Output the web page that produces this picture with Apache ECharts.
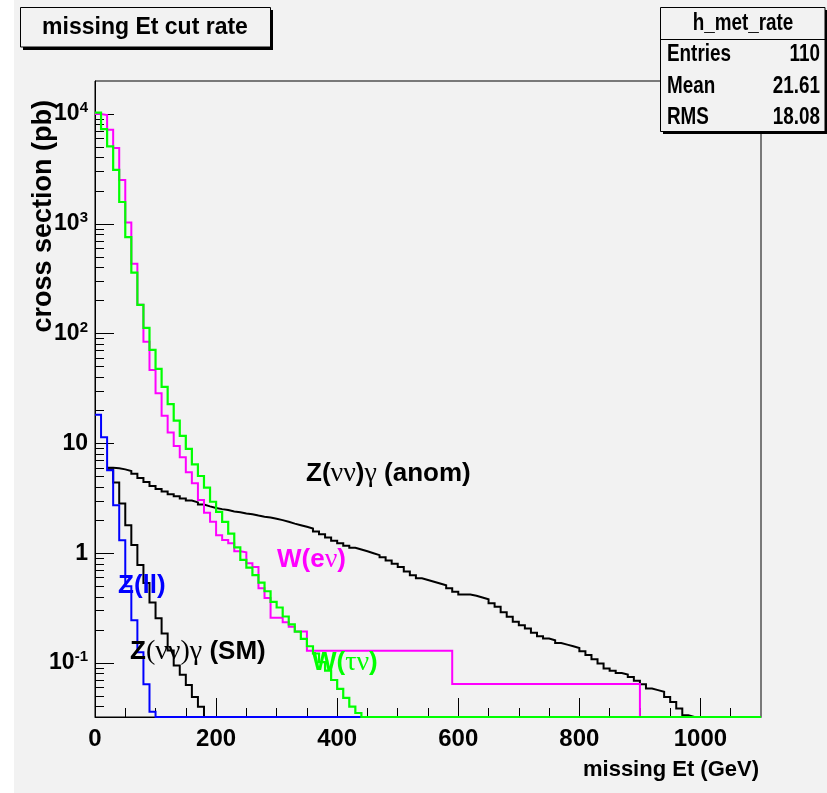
<!DOCTYPE html>
<html><head><meta charset="utf-8">
<script src="https://cdn.jsdelivr.net/npm/echarts@6/dist/echarts.min.js"></script>
<style>html,body{margin:0;padding:0;background:#fff}#c{width:827px;height:793px}</style>
</head><body><div id="c"></div>
<script>
// ---------- data ----------
const BIN_WIDTH = 10; // GeV, 110 bins from 0 to 1100
const X_MIN = 0, X_MAX = 1100;
const Y_MIN = 0.0322, Y_MAX = 20000;

const X_TICKS = [0, 200, 400, 600, 800, 1000];
const X_TICK_LABELS = ['0', '200', '400', '600', '800', '1000'];
const X_MINOR_TICKS = [50,100,150,250,300,350,450,500,550,650,700,750,850,900,950,1050];
const Y_TICKS = [0.1, 1, 10, 100, 1000, 10000];
const Y_TICK_LABELS = ['10{s|-1}', '1', '10', '10{s|2}', '10{s|3}', '10{s|4}'];
const Y_MINOR_TICKS = [0.04,0.05,0.06,0.07,0.08,0.09,
  0.2,0.3,0.4,0.5,0.6,0.7,0.8,0.9,
  2,3,4,5,6,7,8,9,
  20,30,40,50,60,70,80,90,
  200,300,400,500,600,700,800,900,
  2000,3000,4000,5000,6000,7000,8000,9000];

// W(e nu) - magenta
const W_ENU = [
  10000, 9800, 7190, 4900, 2510, 1030, 432, 183, 84.5, 46.7,
  28.6, 17.9, 12.6, 9.46, 7.46, 5.45, 4.33, 3.05, 2.33, 1.93,
  1.46, 1.32, 1.23, 1.04, 1.02, 0.81, 0.75, 0.48, 0.39, 0.258,
  0.258, 0.235, 0.214, 0.1935, 0.1935, 0.129, 0.129, 0.129, 0.129, 0.129,
  0.129, 0.129, 0.129, 0.129, 0.129, 0.129, 0.129, 0.129, 0.129, 0.129,
  0.129, 0.129, 0.129, 0.129, 0.129, 0.129, 0.129, 0.129, 0.129, 0.0645,
  0.0645, 0.0645, 0.0645, 0.0645, 0.0645, 0.0645, 0.0645, 0.0645, 0.0645, 0.0645,
  0.0645, 0.0645, 0.0645, 0.0645, 0.0645, 0.0645, 0.0645, 0.0645, 0.0645, 0.0645,
  0.0645, 0.0645, 0.0645, 0.0645, 0.0645, 0.0645, 0.0645, 0.0645, 0.0645, 0.0645,
  0, 0, 0, 0, 0, 0, 0, 0, 0, 0,
  0, 0, 0, 0, 0, 0, 0, 0, 0, 0
];
// W(tau nu) - green
const W_TAUNU = [
  10300, 7300, 5070, 3100, 1580, 757, 360, 183, 113, 71,
  47.8, 32.7, 22.8, 16.1, 11.7, 8.9, 6.45, 5.05, 3.95, 2.94,
  2.38, 1.93, 1.51, 1.13, 0.87, 0.74, 0.63, 0.54, 0.45, 0.36,
  0.32, 0.265, 0.225, 0.193, 0.166, 0.142, 0.122, 0.102, 0.085, 0.07,
  0.058, 0.048, 0.04, 0.035, 0, 0, 0, 0, 0, 0,
  0, 0, 0, 0, 0, 0, 0, 0, 0, 0,
  0, 0, 0, 0, 0, 0, 0, 0, 0, 0,
  0, 0, 0, 0, 0, 0, 0, 0, 0, 0,
  0, 0, 0, 0, 0, 0, 0, 0, 0, 0,
  0, 0, 0, 0, 0, 0, 0, 0, 0, 0,
  0, 0, 0, 0, 0, 0, 0, 0, 0, 0
];
// Z(ll) - blue
const Z_LL = [
  18.2, 11.4, 5.7, 2.74, 1.31, 0.5, 0.245, 0.125, 0.064, 0.036,
  0, 0, 0, 0, 0, 0, 0, 0, 0, 0,
  0, 0, 0, 0, 0, 0, 0, 0, 0, 0,
  0, 0, 0, 0, 0, 0, 0, 0, 0, 0,
  0, 0, 0, 0, 0, 0, 0, 0, 0, 0,
  0, 0, 0, 0, 0, 0, 0, 0, 0, 0,
  0, 0, 0, 0, 0, 0, 0, 0, 0, 0,
  0, 0, 0, 0, 0, 0, 0, 0, 0, 0,
  0, 0, 0, 0, 0, 0, 0, 0, 0, 0,
  0, 0, 0, 0, 0, 0, 0, 0, 0, 0,
  0, 0, 0, 0, 0, 0, 0, 0, 0, 0
];
// Z(nu nu) gamma (SM) - black
const ZNNG_SM = [
  null, null, 5.8, 4.4, 2.84, 1.80, 1.19, 0.78, 0.535, 0.355,
  0.255, 0.186, 0.13, 0.095, 0.078, 0.063, 0.049, 0.040, 0, 0,
  0, 0, 0, 0, 0, 0, 0, 0, 0, 0,
  0, 0, 0, 0, 0, 0, 0, 0, 0, 0,
  0, 0, 0, 0, 0, 0, 0, 0, 0, 0,
  0, 0, 0, 0, 0, 0, 0, 0, 0, 0,
  0, 0, 0, 0, 0, 0, 0, 0, 0, 0,
  0, 0, 0, 0, 0, 0, 0, 0, 0, 0,
  0, 0, 0, 0, 0, 0, 0, 0, 0, 0,
  0, 0, 0, 0, 0, 0, 0, 0, 0, 0,
  0, 0, 0, 0, 0, 0, 0, 0, 0, 0
];
// Z(nu nu) gamma (anomalous) - black
const ZNNG_ANOM = [
  null, null, 6.0, 5.95, 5.8, 5.6, 5.3, 4.85, 4.45, 4.1,
  3.85, 3.65, 3.45, 3.3, 3.15, 3.02, 2.9, 2.78, 2.67, 2.58,
  2.52, 2.47, 2.40, 2.36, 2.30, 2.26, 2.20, 2.15, 2.11, 2.06,
  2.0, 1.93, 1.86, 1.80, 1.74, 1.68, 1.58, 1.49, 1.39, 1.30,
  1.23, 1.17, 1.12, 1.08, 1.04, 1.0, 0.96, 0.92, 0.86, 0.80,
  0.75, 0.68, 0.63, 0.59, 0.57, 0.55, 0.53, 0.51, 0.48, 0.445,
  0.42, 0.42, 0.41, 0.395, 0.38, 0.35, 0.325, 0.29, 0.263, 0.237,
  0.221, 0.206, 0.188, 0.175, 0.167, 0.161, 0.152, 0.147, 0.142, 0.137,
  0.128, 0.118, 0.108, 0.099, 0.089, 0.085, 0.081, 0.0785, 0.0746, 0.0687,
  0.064, 0.0586, 0.0566, 0.0546, 0.049, 0.044, 0.0385, 0.0334, 0, 0,
  0, 0, 0, 0, 0, 0, 0, 0, 0, 0
];

const STATS_NAME = 'h_met_rate';
const STATS_KEYS = ['Entries', 'Mean', 'RMS'];
const STATS_VALUES = ['110', '21.61', '18.08'];

// ---------- rendering ----------
const SANS = '"Liberation Sans", Arial, Helvetica, sans-serif';
const SERIF = '"Liberation Serif", "Times New Roman", serif';
const BG = '#f2f2f2';
const NARROW_SCALE = 0.82;

// histogram outline: one point per bin left edge (empty bins sit on the frame bottom like ROOT)
function histSteps(vals) {
  const pts = [];
  vals.forEach((v, i) => {
    if (v === null) return;
    pts.push([i * BIN_WIDTH, v > 0 ? v : Y_MIN]);
  });
  const last = vals[vals.length - 1];
  pts.push([vals.length * BIN_WIDTH, last > 0 ? last : Y_MIN]);
  return pts;
}

const LOG_MIN = Math.log10(Y_MIN), LOG_MAX = Math.log10(Y_MAX);
function yLabel(v) {
  for (let i = 0; i < Y_TICKS.length; i++) {
    if (Math.abs(Math.log10(Y_TICKS[i]) - v) < 1e-6) return Y_TICK_LABELS[i];
  }
  return '';
}
function xLabel(v) {
  const i = X_TICKS.indexOf(Math.round(v));
  return i >= 0 ? X_TICK_LABELS[i] : '';
}

const chart = echarts.init(document.getElementById('c'), null, {renderer: 'canvas'});

function histSeries(name, vals, color, width) {
  return {
    name, type: 'line', xAxisIndex: 0, yAxisIndex: 0,
    data: histSteps(vals), step: 'end', symbol: 'none', showSymbol: false,
    lineStyle: {color, width, join: 'miter'}, clip: true, silent: true
  };
}

function statText(text, x, y, align) {
  return {type: 'text', x, y, scaleX: NARROW_SCALE, z: 102,
    style: {text, font: 'bold 23px ' + SANS, fill: '#000', align, verticalAlign: 'middle'}};
}

chart.setOption({
  animation: false,
  backgroundColor: BG,
  grid: {left: 95, top: 81, width: 666, height: 636, show: true, borderColor: '#000', borderWidth: 1, backgroundColor: 'transparent'},
  xAxis: [
    {type: 'value', min: X_MIN, max: X_MAX, position: 'bottom',
     axisLine: {show: true, onZero: false, lineStyle: {color: '#000', width: 1}},
     axisTick: {show: true, inside: true, length: 19, customValues: X_TICKS, lineStyle: {color: '#000', width: 1}},
     axisLabel: {show: true, customValues: X_TICKS, formatter: xLabel, margin: 10,
       fontSize: 24, fontWeight: 'bold', fontFamily: SANS, color: '#000'},
     splitLine: {show: false}},
    {type: 'value', min: X_MIN, max: X_MAX, position: 'bottom',
     axisLine: {show: false, onZero: false},
     axisTick: {show: true, inside: true, length: 9, customValues: X_MINOR_TICKS, lineStyle: {color: '#000', width: 1}},
     axisLabel: {show: false}, splitLine: {show: false}}
  ],
  yAxis: [
    {type: 'log', logBase: 10, min: Y_MIN, max: Y_MAX, show: false, splitLine: {show: false}},
    {type: 'value', min: LOG_MIN, max: LOG_MAX, position: 'left',
     axisLine: {show: true, onZero: false, lineStyle: {color: '#000', width: 1}},
     axisTick: {show: true, inside: true, length: 19, customValues: Y_TICKS.map(Math.log10), lineStyle: {color: '#000', width: 1}},
     axisLabel: {show: true, customValues: Y_TICKS.map(Math.log10), formatter: yLabel, margin: 7,
       fontSize: 23, fontWeight: 'bold', fontFamily: SANS, color: '#000',
       rich: {s: {fontSize: 15, fontWeight: 'bold', fontFamily: SANS, color: '#000', verticalAlign: 'top', padding: [0, 0, 12, 0]}}},
     splitLine: {show: false}},
    {type: 'value', min: LOG_MIN, max: LOG_MAX, position: 'left',
     axisLine: {show: false, onZero: false},
     axisTick: {show: true, inside: true, length: 9, customValues: Y_MINOR_TICKS.map(Math.log10), lineStyle: {color: '#000', width: 1}},
     axisLabel: {show: false}, splitLine: {show: false}}
  ],
  series: [
    histSeries('Z(nunu)gamma anom', ZNNG_ANOM, '#000000', 2),
    histSeries('Z(nunu)gamma SM', ZNNG_SM, '#000000', 2),
    histSeries('W(e nu)', W_ENU, '#ff00ff', 2),
    histSeries('Z(ll)', Z_LL, '#0000ff', 2),
    histSeries('W(tau nu)', W_TAUNU, '#00ff00', 2.2)
  ],
  graphic: [
    {type: 'rect', shape: {x: 0, y: 0, width: 14, height: 793}, style: {fill: '#ffffff'}, z: 0},
    // title box
    {type: 'rect', shape: {x: 23, y: 10, width: 250, height: 40}, style: {fill: '#000'}, z: 100},
    {type: 'rect', shape: {x: 20.5, y: 7.5, width: 250, height: 39.5}, style: {fill: BG, stroke: '#000', lineWidth: 1}, z: 101},
    {type: 'text', x: 145, y: 28, z: 102, style: {text: 'missing Et cut rate', font: 'bold 23px ' + SANS, fill: '#000', align: 'center', verticalAlign: 'middle'}},
    // stats box
    {type: 'rect', shape: {x: 663, y: 10, width: 165, height: 124}, style: {fill: '#000'}, z: 100},
    {type: 'rect', shape: {x: 660.5, y: 7.5, width: 164.5, height: 124}, style: {fill: BG, stroke: '#000', lineWidth: 1}, z: 101},
    {type: 'line', shape: {x1: 660.5, y1: 39.5, x2: 825, y2: 39.5}, style: {stroke: '#000', lineWidth: 1}, z: 102},
    statText(STATS_NAME, 743, 24, 'center'),
    ...STATS_KEYS.map((k, i) => statText(k, 667, 55 + i * 31.5, 'left')),
    ...STATS_VALUES.map((v, i) => statText(v, 820, 55 + i * 31.5, 'right')),
    // axis titles
    {type: 'text', x: 759, y: 770, z: 102, style: {text: 'missing Et (GeV)', font: 'bold 22px ' + SANS, fill: '#000', align: 'right', verticalAlign: 'middle'}},
    {type: 'text', x: 44, y: 100, rotation: Math.PI / 2, z: 102, style: {text: 'cross section (pb)', font: 'bold 27px ' + SANS, fill: '#000', align: 'right', verticalAlign: 'middle'}},
    // curve labels
    {type: 'text', x: 306, y: 474, z: 102, style: {text: '{b|Z(}{g|νν}{b|)}{g|γ}{b| (anom)}', fill: '#000', align: 'left', verticalAlign: 'middle',
      rich: {b: {font: 'bold 26px ' + SANS, fill: '#000'}, g: {font: '28px ' + SERIF, fill: '#000'}}}},
    {type: 'text', x: 277, y: 560, z: 102, style: {text: '{b|W(e}{g|ν}{b|)}', align: 'left', verticalAlign: 'middle',
      rich: {b: {font: 'bold 26px ' + SANS, fill: '#ff00ff'}, g: {font: '28px ' + SERIF, fill: '#ff00ff'}}}},
    {type: 'text', x: 118, y: 586, z: 102, style: {text: '{b|Z(ll)}', align: 'left', verticalAlign: 'middle',
      rich: {b: {font: 'bold 26px ' + SANS, fill: '#0000ff'}}}},
    {type: 'text', x: 130, y: 652, z: 102, style: {text: '{b|Z}{g|(νν)γ}{b| (SM)}', align: 'left', verticalAlign: 'middle',
      rich: {b: {font: 'bold 26px ' + SANS, fill: '#000'}, g: {font: '28px ' + SERIF, fill: '#000'}}}},
    {type: 'text', x: 312, y: 663, z: 102, style: {text: '{b|W(}{g|τν}{b|)}', align: 'left', verticalAlign: 'middle',
      rich: {b: {font: 'bold 26px ' + SANS, fill: '#00ff00'}, g: {font: '28px ' + SERIF, fill: '#00ff00'}}}}
  ]
});
</script></body></html>
